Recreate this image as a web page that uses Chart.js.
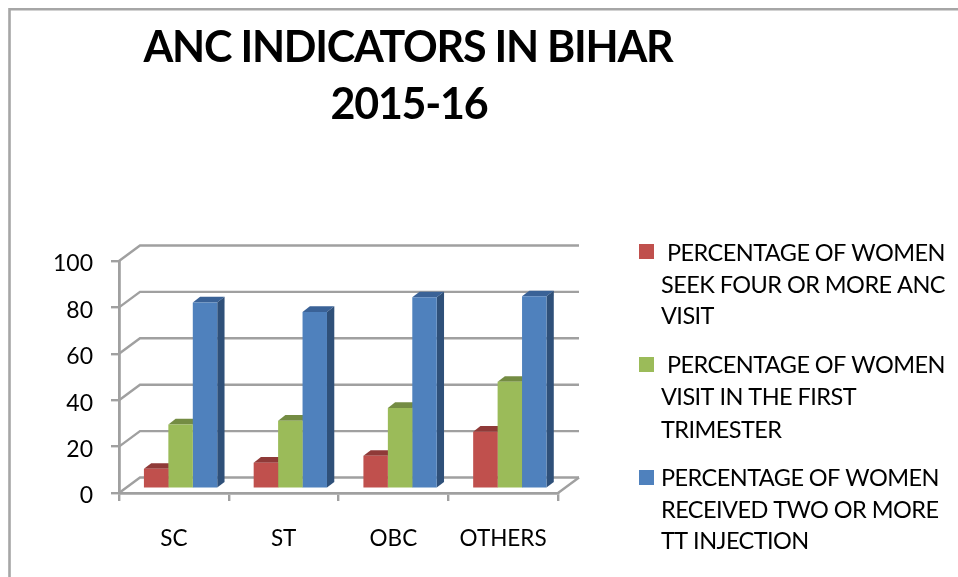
<!DOCTYPE html>
<html><head><meta charset="utf-8">
<style>html,body{margin:0;padding:0;background:#fff;overflow:hidden}#w{width:958px;height:577px;position:relative}</style>
<script src="https://cdn.jsdelivr.net/npm/chart.js@4/dist/chart.umd.min.js"></script>
</head><body><div id="w"><canvas id="c" width="958" height="577"></canvas></div>
<script>
const categories = ["SC","ST","OBC","OTHERS"];
const fourAncVisits = [8.6,11.2,14.2,24.6];
const firstTrimester = [27.7,29.3,34.8,46.1];
const ttInjection = [80.3,76.2,82.5,82.9];
const yTicks = [0,20,40,60,80,100];
const titleLines = ["ANC INDICATORS IN BIHAR","2015-16"];
const legendRed = ["PERCENTAGE OF WOMEN","SEEK FOUR OR MORE ANC","VISIT"];
const legendGreen = ["PERCENTAGE OF WOMEN","VISIT IN THE FIRST","TRIMESTER"];
const legendBlue = ["PERCENTAGE OF WOMEN","RECEIVED TWO OR MORE","TT INJECTION"];

const GRID = "#a0a0a0", FONT = "Lato, sans-serif";
const WALL = {dx:21, dy:-15.5}, BAR = {dx:6.7, dy:-4.3}, DEPTH = {dx:7.3, dy:-5.6};
const shades = [{top:"#8f3a38",side:"#8f3a38"},{top:"#748c43",side:"#748c43"},{top:"#3a6297",side:"#2f5079"}];

function poly(ctx, pts, fill){
  ctx.beginPath(); pts.forEach((p,i)=> i?ctx.lineTo(p[0],p[1]):ctx.moveTo(p[0],p[1]));
  ctx.closePath(); ctx.fillStyle = fill; ctx.fill();
}
const scene3d = {
  id:"scene3d",
  beforeDraw(chart){
    const {ctx} = chart;
    ctx.save();
    ctx.fillStyle = "#fff"; ctx.fillRect(0,0,chart.width,chart.height);
    ctx.strokeStyle = "#a6a6a6"; ctx.lineWidth = 2.6;
    ctx.beginPath(); ctx.moveTo(9.5,chart.height); ctx.lineTo(9.5,9.3); ctx.lineTo(chart.width,9.3); ctx.stroke();
    ctx.fillStyle = "#000"; ctx.textAlign = "center"; ctx.textBaseline = "alphabetic";
    ctx.font = "bold 43px "+FONT; ctx.letterSpacing = "-1.25px";
    ctx.fillText(titleLines[0], 408, 62);
    ctx.fillText(titleLines[1], 409, 119);
    ctx.textAlign = "left"; ctx.font = "23.5px "+FONT; ctx.letterSpacing = "-0.55px";
    const blocks = [
      {lines:legendRed, col:"#c0504d", sy:244, base:[261,292.5,324], first:667},
      {lines:legendGreen, col:"#9bbb59", sy:357, base:[373,405,437.5], first:667},
      {lines:legendBlue, col:"#4f81bd", sy:470, base:[486,517.5,549], first:661}];
    blocks.forEach(b=>{
      ctx.fillStyle = b.col; ctx.fillRect(639,b.sy,15,15);
      ctx.fillStyle = "#000";
      b.lines.forEach((t,i)=> ctx.fillText(t, i===0?b.first:661, b.base[i]));
    });
    ctx.letterSpacing = "0px";
    ctx.restore();
  },
  beforeDatasetsDraw(chart){
    const {ctx, scales:{x,y}} = chart;
    ctx.save();
    ctx.strokeStyle = GRID; ctx.lineWidth = 2.4;
    yTicks.forEach(v=>{
      const py = y.getPixelForValue(v);
      ctx.beginPath(); ctx.moveTo(x.left,py); ctx.lineTo(x.left+WALL.dx,py+WALL.dy); ctx.lineTo(x.right+WALL.dx,py+WALL.dy); ctx.stroke();
    });
    const py0 = y.getPixelForValue(0);
    ctx.beginPath(); ctx.moveTo(x.right,py0); ctx.lineTo(x.right+WALL.dx,py0+WALL.dy); ctx.stroke();
    ctx.translate(BAR.dx,BAR.dy);
    chart.data.datasets.forEach((ds,i)=>{
      chart.getDatasetMeta(i).data.forEach(b=>{
        const l=b.x-b.width/2, r=b.x+b.width/2, t=b.y, bt=b.base;
        poly(ctx,[[l,t],[l+DEPTH.dx,t+DEPTH.dy],[r+DEPTH.dx,t+DEPTH.dy],[r,t]],shades[i].top);
        poly(ctx,[[r,t],[r+DEPTH.dx,t+DEPTH.dy],[r+DEPTH.dx,bt+DEPTH.dy],[r,bt]],shades[i].side);
      });
    });
  },
  afterDatasetsDraw(chart){ chart.ctx.restore(); }
};

new Chart(document.getElementById("c"),{
  type:"bar",
  data:{labels:categories,datasets:[
    {label:legendRed.join(" "),data:fourAncVisits,backgroundColor:"#c0504d"},
    {label:legendGreen.join(" "),data:firstTrimester,backgroundColor:"#9bbb59"},
    {label:legendBlue.join(" "),data:ttInjection,backgroundColor:"#4f81bd"}]},
  options:{
    responsive:false,animation:false,
    layout:{padding:{top:261,right:400,left:0,bottom:0}},
    plugins:{legend:{display:false},title:{display:false},tooltip:{enabled:false}},
    datasets:{bar:{clip:false,categoryPercentage:0.668,barPercentage:1}},
    scales:{
      x:{afterFit(s){s.height=84},
        grid:{drawOnChartArea:false,color:GRID,lineWidth:2.4,tickLength:8},
        border:{color:GRID,width:2.8},
        ticks:{color:"#000",font:{family:FONT,size:22.5},padding:24,maxRotation:0}},
      y:{min:0,max:100,afterFit(s){s.width=119},
        afterBuildTicks(s){s.ticks=yTicks.map(v=>({value:v}))},
        grid:{drawOnChartArea:false,color:GRID,lineWidth:2.4,tickLength:8},
        border:{color:GRID,width:2.8},
        ticks:{color:"#000",font:{family:FONT,size:23},padding:18,labelOffset:3}}
    }
  },
  plugins:[scene3d]
});
</script></body></html>
